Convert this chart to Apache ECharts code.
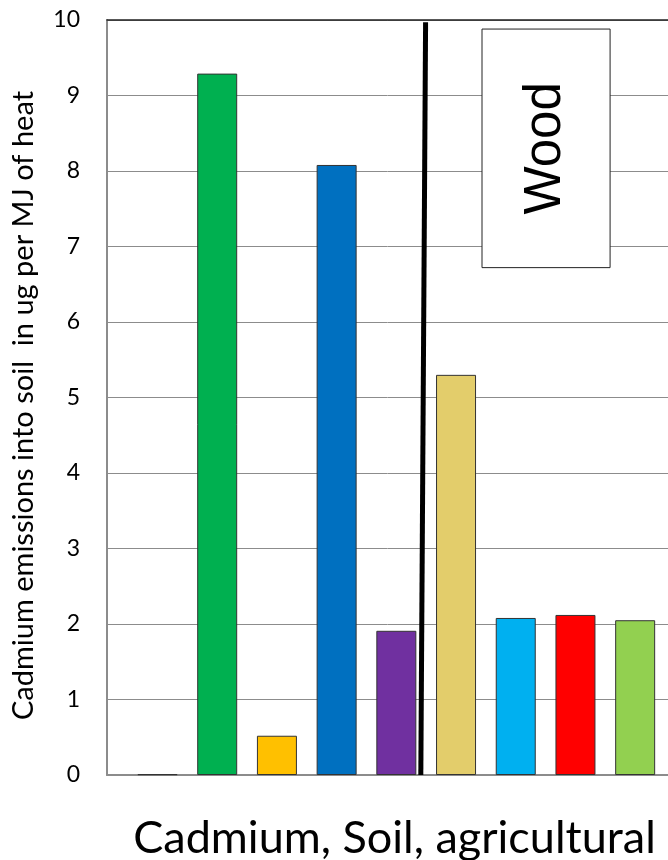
<!DOCTYPE html>
<html><head><meta charset="utf-8">
<script src="https://cdn.jsdelivr.net/npm/echarts@6/dist/echarts.min.js"></script>
<style>html,body{margin:0;padding:0;background:#fff}#c{width:668px;height:860px}</style>
</head><body><div id="c"></div>
<script>
var values = [0.01, 9.29, 0.52, 8.08, 1.91, 5.30, 2.08, 2.12, 2.05];
var colors = ['#7f7f7f', '#00B050', '#FFC000', '#0070C0', '#7030A0', '#E3CD6B', '#00B0F0', '#FF0000', '#92D050'];
var yTicks = [0, 1, 2, 3, 4, 5, 6, 7, 8, 9, 10];
var dividerLine = [[4.49, 9.97], [4.41, 0]];
var woodBox = {x0: 5.435, x1: 7.58, y0: 6.72, y1: 9.88, label: 'Wood'};
var xTitle = 'Cadmium, Soil, agricultural';
var yTitle = 'Cadmium emissions into soil  in ug per MJ of heat';

var chart = echarts.init(document.getElementById('c'), null, {renderer: 'canvas'});
var barData = values.map(function (v, i) {
  return {value: [i, v], itemStyle: {color: colors[i]}};
});
chart.setOption({
  animation: false,
  grid: {left: 107, right: 0, top: 20, bottom: 85, containLabel: false, outerBoundsMode: 'none'},
  xAxis: [{
    type: 'value', min: -0.846, max: 8.55,
    axisLine: {show: true, onZero: false, lineStyle: {color: '#8c8c8c', width: 2}},
    axisTick: {show: false}, axisLabel: {show: false}, splitLine: {show: false},
    name: xTitle, nameLocation: 'middle', nameGap: 41,
    nameTextStyle: {fontFamily: 'Lato', fontSize: 45, color: '#000', padding: [0, 0, 0, 14]}
  }, {
    type: 'value', min: -0.846, max: 8.55, position: 'top',
    axisLine: {show: true, onZero: false, lineStyle: {color: '#222', width: 1.5}},
    axisTick: {show: false}, axisLabel: {show: false}, splitLine: {show: false}
  }],
  yAxis: {
    type: 'value', min: 0, max: 10, interval: 1,
    axisLine: {show: true, onZero: false, lineStyle: {color: '#8c8c8c', width: 2}},
    axisTick: {show: false},
    axisLabel: {fontFamily: 'Lato', fontSize: 23, color: '#000', margin: 27,
      formatter: function (v) { return yTicks.indexOf(v) >= 0 ? String(v) : ''; }},
    splitLine: {lineStyle: {color: '#8c8c8c', width: 1}},
    name: yTitle, nameLocation: 'middle', nameGap: 69, nameRotate: 90,
    nameTextStyle: {fontFamily: 'Lato', fontSize: 29, color: '#000', padding: [0, 16, 0, 0]}
  },
  series: [{
    type: 'bar', xAxisIndex: 0, barWidth: 40, data: barData,
    itemStyle: {borderColor: '#333', borderWidth: 1}
  }, {
    type: 'line', xAxisIndex: 0, data: dividerLine, symbol: 'none',
    lineStyle: {color: '#000', width: 5}
  }]
});
function drawBox() {
  var p0 = chart.convertToPixel({xAxisIndex: 0, yAxisIndex: 0}, [woodBox.x0, woodBox.y1]);
  var p1 = chart.convertToPixel({xAxisIndex: 0, yAxisIndex: 0}, [woodBox.x1, woodBox.y0]);
  var w = p1[0] - p0[0], h = p1[1] - p0[1];
  chart.setOption({graphic: [{
    type: 'rect', shape: {x: p0[0], y: p0[1], width: w, height: h},
    style: {fill: '#fff', stroke: '#222', lineWidth: 1}, z: 100
  }, {
    type: 'text', x: p0[0] + w / 2, y: p0[1] + h / 2, rotation: Math.PI / 2,
    style: {text: woodBox.label, fontFamily: 'Liberation Sans', fontSize: 51, fill: '#000',
      align: 'center', verticalAlign: 'middle'}, z: 101
  }]});
}
drawBox();
</script></body></html>
